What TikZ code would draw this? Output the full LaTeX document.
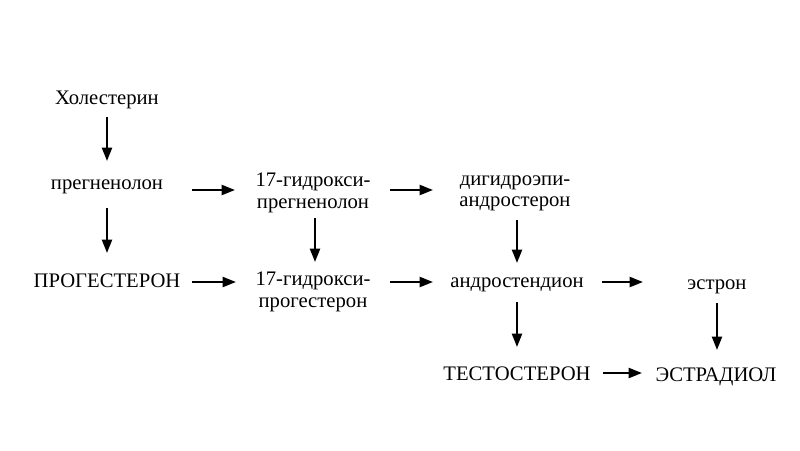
\documentclass[tikz,border=0pt]{standalone}
\usepackage{fontspec}
\setmainfont{Liberation Serif}
\usetikzlibrary{arrows.meta,calc}
\begin{document}
\begin{tikzpicture}[x=0.75pt,y=-0.75pt,
  lbl/.style={inner sep=0pt,anchor=base,align=center,font=\fontsize{15.5}{16}\selectfont},
  arr/.style={line width=1.5pt,-{Triangle[length=10pt,width=7.5pt]}}]
\useasboundingbox (0,0) rectangle (800,450);
\node[lbl] (chol) at (107,104) {Холестерин};
\node[lbl] (preg) at (107,189) {прегненолон};
\node[lbl] (prog) at (107,287.5) {ПРОГЕСТЕРОН};
\node[lbl] (h17p) at (313,208) {17-гидрокси-\\прегненолон};
\node[lbl] (h17g) at (313,307) {17-гидрокси-\\прогестерон};
\node[lbl] (dhea) at (515,206.5) {дигидроэпи-\\андростерон};
\node[lbl] (andr) at (517,287.5) {андростендион};
\node[lbl] (estron) at (717,289) {эстрон};
\node[lbl] (testo) at (517,380.7) {ТЕСТОСТЕРОН};
\node[lbl] (estradiol) at (716,381.5) {ЭСТРАДИОЛ};
\draw[arr] ($(chol.base)+(0,13)$) -- ($(preg.base)+(0,-28)$);
\draw[arr] ($(preg.base)+(0,19)$) -- ($(prog.base)+(0,-34.5)$);
\draw[arr] ($(preg.base)+(85,1)$) -- ($(h17p.base)+(-78,-18)$);
\draw[arr] ($(prog.base)+(85,-5.5)$) -- ($(h17g.base)+(-77,-25)$);
\draw[arr] ($(h17p.base)+(2,10)$) -- ($(h17g.base)+(2,-45)$);
\draw[arr] ($(h17p.base)+(77,-18)$) -- ($(dhea.base)+(-82,-16.5)$);
\draw[arr] ($(h17g.base)+(77,-25)$) -- ($(andr.base)+(-84,-5.5)$);
\draw[arr] ($(dhea.base)+(2,13.5)$) -- ($(andr.base)+(0,-24.5)$);
\draw[arr] ($(andr.base)+(85,-5.5)$) -- ($(estron.base)+(-74,-7)$);
\draw[arr] ($(andr.base)+(0,14.5)$) -- ($(testo.base)+(0,-33.7)$);
\draw[arr] ($(estron.base)+(0,14)$) -- ($(estradiol.base)+(1,-31.5)$);
\draw[arr] ($(testo.base)+(86,-7.7)$) -- ($(estradiol.base)+(-74,-8.5)$);
\end{tikzpicture}
\end{document}
